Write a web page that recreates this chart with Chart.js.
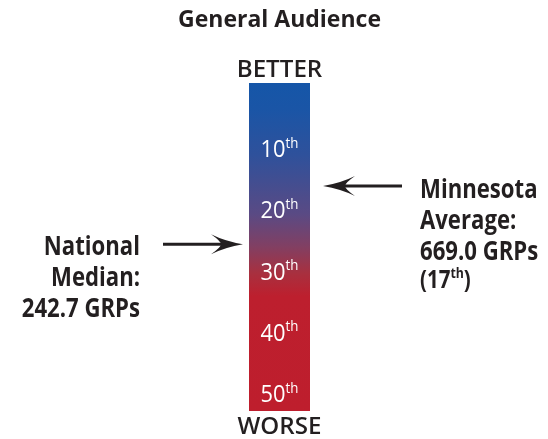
<!DOCTYPE html>
<html>
<head>
<meta charset="utf-8">
<script src="https://cdn.jsdelivr.net/npm/chart.js@4"></script>
<style>
  html, body { margin: 0; padding: 0; background: #fff; }
  #wrap { width: 548px; height: 439px; }
</style>
</head>
<body>
<div id="wrap"><canvas id="rankChart" width="548" height="439"></canvas></div>
<script>
// ----------- DATA -----------
const categories = ["General Audience"];
const rankRange = [-1, 52.5];            // span of the scale bar
const rankTicks = [10, 20, 30, 40, 50];
const markerNames = ["National Median", "Minnesota Average"];
const markerRanks = [25.3, 15.8];        // where the arrows point
const markerSides = ["left", "right"];
const markerLines = [
  ["National", "Median:", "242.7 GRPs"],
  ["Minnesota", "Average:", "669.0 GRPs", "(17|th|)"]
];

const FONT = "'Open Sans', 'Noto Sans', sans-serif";
const DARK = "#231f20";

function gradientFill(ctx) {
  const area = ctx.chart.chartArea;
  if (!area) return "#1a55a6";
  const g = ctx.chart.ctx.createLinearGradient(0, area.top, 0, area.bottom);
  g.addColorStop(0.00, "#1556a8");
  g.addColorStop(0.08, "#1a55a6");
  g.addColorStop(0.22, "#2f519b");
  g.addColorStop(0.40, "#5a4a84");
  g.addColorStop(0.50, "#823f62");
  g.addColorStop(0.58, "#a8303f");
  g.addColorStop(0.65, "#bd1f2e");
  g.addColorStop(1.00, "#be1e2d");
  return g;
}

// text with "|sup|" superscript parts; sx squeezes horizontally
function drawSupText(c, str, x, y, size, align, weight, sx) {
  sx = sx || 1;
  const parts = str.split("|");
  const supSize = Math.round(size * 0.6);
  let total = 0;
  parts.forEach((p, i) => {
    c.font = weight + " " + (i % 2 ? supSize : size) + "px " + FONT;
    total += c.measureText(p).width;
  });
  c.save();
  c.translate(x, y);
  c.scale(sx, 1);
  let cx = align === "center" ? -total / 2 : align === "right" ? -total : 0;
  c.textAlign = "left";
  parts.forEach((p, i) => {
    const sup = i % 2 === 1;
    c.font = weight + " " + (sup ? supSize : size) + "px " + FONT;
    c.fillText(p, cx, sup ? -size * 0.3 : 0);
    cx += c.measureText(p).width;
  });
  c.restore();
}

const overlay = {
  id: "overlay",
  afterDatasetsDraw(chart) {
    const c = chart.ctx;
    const y = chart.scales.y;
    const area = chart.chartArea;
    const midX = (area.left + area.right) / 2;
    c.save();
    c.textBaseline = "middle";

    // title + ends
    c.fillStyle = DARK;
    drawSupText(c, categories[0], midX, 20, 23, "center", "bold");
    drawSupText(c, "BETTER", midX, 70, 23, "center", "600", 1.05);
    drawSupText(c, "WORSE", midX, 427, 23, "center", "600", 1.05);

    // rank labels
    c.fillStyle = "#fff";
    rankTicks.forEach(r => {
      drawSupText(c, r + "|th|", midX, y.getPixelForValue(r), 23, "center", "normal", 0.95);
    });

    // arrows + notes
    markerRanks.forEach((r, i) => {
      const py = y.getPixelForValue(r);
      const left = markerSides[i] === "left";
      const tip = left ? area.left - 6 : area.right + 13;
      const tail = left ? tip - 80 : tip + 79;
      const dir = left ? 1 : -1;
      c.strokeStyle = DARK;
      c.fillStyle = DARK;
      c.lineWidth = 3;
      c.beginPath();
      c.moveTo(tail, py);
      c.lineTo(tip - dir * 14, py);
      c.stroke();
      c.beginPath();
      c.moveTo(tip, py);
      c.quadraticCurveTo(tip - dir * 18, py - 3, tip - dir * 32, py - 10);
      c.quadraticCurveTo(tip - dir * 22, py - 3, tip - dir * 22, py);
      c.quadraticCurveTo(tip - dir * 22, py + 3, tip - dir * 32, py + 10);
      c.quadraticCurveTo(tip - dir * 18, py + 3, tip, py);
      c.closePath();
      c.fill();

      const lines = markerLines[i];
      const tx = left ? 140 : 420;
      const ty = left ? py + 3 : py + 4;
      let ly = ty;
      lines.forEach((ln, k) => {
        const small = ln.startsWith("(");
        if (k > 0) ly += small ? 29 : 31;
        drawSupText(c, ln, tx, ly, small ? 25 : 27, left ? "right" : "left", "bold", 0.82);
      });
    });
    c.restore();
  }
};

// ----------- RANK SCALE BAR -----------
const ctx = document.getElementById("rankChart").getContext("2d");
new Chart(ctx, {
  type: "bar",
  data: {
    labels: categories,
    datasets: [{
      label: "Rank",
      data: [rankRange],
      backgroundColor: gradientFill,
      borderWidth: 0,
      barPercentage: 1,
      categoryPercentage: 1
    }]
  },
  options: {
    responsive: false,
    animation: false,
    layout: { padding: { left: 249, right: 238, top: 83, bottom: 28 } },
    plugins: { legend: { display: false }, tooltip: { enabled: false }, title: { display: false } },
    scales: {
      x: { display: false },
      y: { display: false, reverse: true, min: rankRange[0], max: rankRange[1] }
    }
  },
  plugins: [overlay]
});
</script>
</body>
</html>
